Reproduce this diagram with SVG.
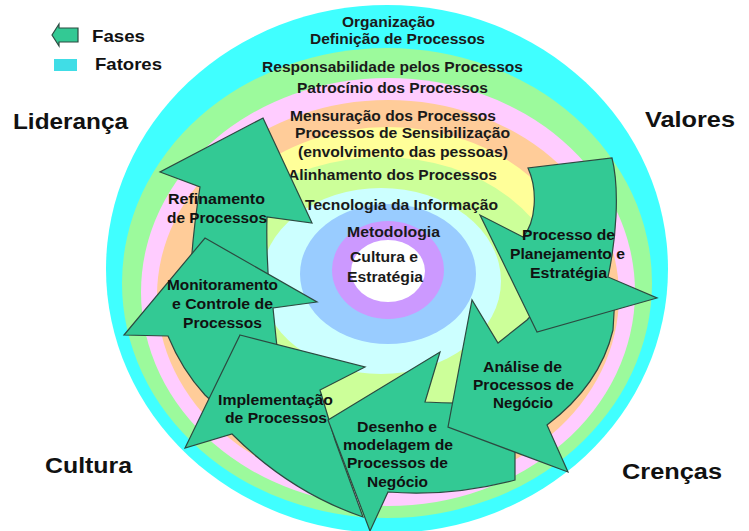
<svg xmlns="http://www.w3.org/2000/svg" width="749" height="531" viewBox="0 0 749 531">
<style>
.ring{stroke:none}
.rt{font-family:"Liberation Sans",Arial,sans-serif;font-weight:bold;font-size:14px;fill:#1a1a1a}
.at{font-family:"Liberation Sans",Arial,sans-serif;font-weight:bold;font-size:14px;fill:#111}
.big{font-family:"Liberation Sans",Arial,sans-serif;font-weight:bold;font-size:22px;fill:#111}
.leg{font-family:"Liberation Sans",Arial,sans-serif;font-weight:bold;font-size:17px;fill:#111}
.arrow{fill:#33C994;stroke:#2C4A40;stroke-width:1.2;stroke-linejoin:miter}
</style>
<rect width="749" height="531" fill="#ffffff"/>
<g id="rings">
<ellipse class="ring" cx="387" cy="269" rx="281" ry="264" fill="#40FFFF"/>
<ellipse class="ring" cx="387" cy="283" rx="265" ry="235" fill="#9CFA9C"/>
<ellipse class="ring" cx="388" cy="292" rx="247" ry="214" fill="#FFCCFF"/>
<ellipse class="ring" cx="388" cy="296" rx="231" ry="196" fill="#FFCC99"/>
<ellipse class="ring" cx="388" cy="295" rx="200" ry="168" fill="#FFFF99"/>
<ellipse class="ring" cx="382" cy="295" rx="180" ry="138" fill="#CCFF99"/>
<ellipse class="ring" cx="381" cy="281" rx="120" ry="93" fill="#CCFFFF"/>
<ellipse class="ring" cx="388" cy="274" rx="88" ry="70" fill="#99CCFF"/>
<ellipse class="ring" cx="388" cy="270" rx="56" ry="49" fill="#CC99FF"/>
<ellipse class="ring" cx="388" cy="271" rx="37" ry="31" fill="#FFFFFF"/>
</g>
<g id="factors">
<text class="rt" x="342" y="27" textLength="93" lengthAdjust="spacingAndGlyphs">Organização</text>
<text class="rt" x="310" y="44" textLength="175" lengthAdjust="spacingAndGlyphs">Definição de Processos</text>
<text class="rt" x="262" y="72" textLength="261" lengthAdjust="spacingAndGlyphs">Responsabilidade pelos Processos</text>
<text class="rt" x="297" y="93" textLength="191" lengthAdjust="spacingAndGlyphs">Patrocínio dos Processos</text>
<text class="rt" x="290" y="121" textLength="206" lengthAdjust="spacingAndGlyphs">Mensuração dos Processos</text>
<text class="rt" x="295" y="138" textLength="215" lengthAdjust="spacingAndGlyphs">Processos de Sensibilização</text>
<text class="rt" x="298" y="157" textLength="210" lengthAdjust="spacingAndGlyphs">(envolvimento das pessoas)</text>
<text class="rt" x="288" y="180" textLength="209" lengthAdjust="spacingAndGlyphs">Alinhamento dos Processos</text>
<text class="rt" x="305" y="210" textLength="193" lengthAdjust="spacingAndGlyphs">Tecnologia da Informação</text>
<text class="rt" x="347" y="237" textLength="93" lengthAdjust="spacingAndGlyphs">Metodologia</text>
<text class="rt" x="350" y="262" textLength="68" lengthAdjust="spacingAndGlyphs">Cultura e</text>
<text class="rt" x="347" y="282" textLength="76" lengthAdjust="spacingAndGlyphs">Estratégia</text>
</g>
<g id="arrows">
<g id="refinamento">
<path class="arrow" d="M263,118 L312,223 L267,217 Q266,255 270,300 L190,300 Q190,250 200,187 L160,172 Z"/>
</g>
<g id="monitoramento">
<path class="arrow" d="M205,238 L317,302 L273,308 Q276,340 280,372 L232,420 L205,395 Q182,370 168,336 L124,335 Z"/>
</g>
<g id="implementacao">
<path class="arrow" d="M240,335 L365,367 L320,390 L335,440 L363,517 Q290,492 232,434 L185,448 Z"/>
</g>
<g id="desenho">
<path class="arrow" d="M328,420 L440,352 L425,402 Q470,405 515,400 L515,480 Q450,497 388,492 L370,531 Z"/>
</g>
<g id="analise">
<path class="arrow" d="M448,427 L472,300 L498,343 L527,320 L545,300 L615,296 L613,330 Q600,385 547,425 L568,472 Z"/>
</g>
<g id="planejamento">
<path class="arrow" d="M537,332 L480,215 L523,237 C536,222 538,190 528,168 L612,158 C620,190 616,240 608,277 L657,298 Z"/>
</g>
</g>
<g id="phase-labels">
<text class="at" x="168" y="204" textLength="97" lengthAdjust="spacingAndGlyphs">Refinamento</text>
<text class="at" x="167" y="223" textLength="100" lengthAdjust="spacingAndGlyphs">de Processos</text>
<text class="at" x="167" y="290" textLength="111" lengthAdjust="spacingAndGlyphs">Monitoramento</text>
<text class="at" x="172" y="309" textLength="101" lengthAdjust="spacingAndGlyphs">e Controle de</text>
<text class="at" x="183" y="328" textLength="79" lengthAdjust="spacingAndGlyphs">Processos</text>
<text class="at" x="522" y="240" textLength="93" lengthAdjust="spacingAndGlyphs">Processo de</text>
<text class="at" x="510" y="259" textLength="115" lengthAdjust="spacingAndGlyphs">Planejamento e</text>
<text class="at" x="530" y="278" textLength="77" lengthAdjust="spacingAndGlyphs">Estratégia</text>
<text class="at" x="483" y="372" textLength="79" lengthAdjust="spacingAndGlyphs">Análise de</text>
<text class="at" x="473" y="390" textLength="101" lengthAdjust="spacingAndGlyphs">Processos de</text>
<text class="at" x="493" y="408" textLength="60" lengthAdjust="spacingAndGlyphs">Negócio</text>
<text class="at" x="218" y="405" textLength="115" lengthAdjust="spacingAndGlyphs">Implementação</text>
<text class="at" x="225" y="423" textLength="102" lengthAdjust="spacingAndGlyphs">de Processos</text>
<text class="at" x="357" y="432" textLength="80" lengthAdjust="spacingAndGlyphs">Desenho e</text>
<text class="at" x="343" y="450" textLength="110" lengthAdjust="spacingAndGlyphs">modelagem de</text>
<text class="at" x="347" y="468" textLength="101" lengthAdjust="spacingAndGlyphs">Processos de</text>
<text class="at" x="367" y="487" textLength="61" lengthAdjust="spacingAndGlyphs">Negócio</text>
</g>
<g id="corners">
<text class="big" x="13" y="129" textLength="115" lengthAdjust="spacingAndGlyphs">Liderança</text>
<text class="big" x="645" y="127" textLength="90" lengthAdjust="spacingAndGlyphs">Valores</text>
<text class="big" x="45" y="473" textLength="87" lengthAdjust="spacingAndGlyphs">Cultura</text>
<text class="big" x="622" y="479" textLength="100" lengthAdjust="spacingAndGlyphs">Crenças</text>
</g>
<g id="legend">
<path class="arrow" d="M52,35 L59,24 L59,28 L78,28 L78,42 L59,42 L59,46 Z"/>
<text class="leg" x="92" y="42" textLength="53" lengthAdjust="spacingAndGlyphs">Fases</text>
<rect x="54" y="59" width="23" height="12" fill="#40DDE6"/>
<text class="leg" x="95" y="70" textLength="67" lengthAdjust="spacingAndGlyphs">Fatores</text>
</g>
</svg>
